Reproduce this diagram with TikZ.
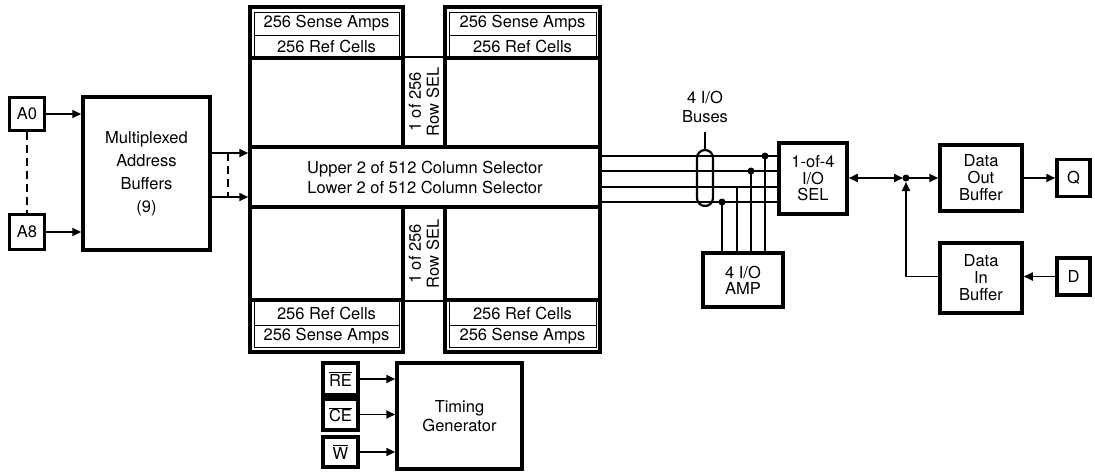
\documentclass[tikz,border=0pt]{standalone}
\usepackage{fontspec}
\setmainfont{TeX Gyre Heros}
\usetikzlibrary{arrows.meta, positioning, calc}

\newcommand{\ovbar}[1]{$\overline{\mbox{#1}}$}

\tikzset{
  blk/.style={draw, line width=3.5pt, align=center, inner sep=0pt},
  pin/.style={blk, minimum width=35pt, minimum height=33pt},
  cellrow/.style={draw, line width=1pt, inner sep=0pt},
  wire/.style={line width=1.7pt},
  sig/.style={wire, -{Triangle[length=9pt,width=8pt]}},
  dot/.style={circle, fill, inner sep=0pt, minimum size=7pt},
}

\begin{document}
\begin{tikzpicture}[x=1pt, y=-1pt, font=\fontsize{16.5}{18}\selectfont]

\useasboundingbox (0,0) rectangle (1095,472);

% Address inputs and buffers
\node[pin] (a0) at (27,114) {A0};
\node[pin, minimum height=35pt] (a8) at (27,232) {A8};
\node[blk, minimum width=127pt, minimum height=153pt, font=\fontsize{16.5}{23}\selectfont]
  (mux) at (146.5,173.5) {Multiplexed\\Address\\Buffers\\(9)};
\draw[wire, dash pattern=on 8pt off 5pt] (a0) -- (a8);
\draw[sig] (a0) -- (a0 -| mux.west);
\draw[sig] (a8) -- (a8 -| mux.west);

% Memory array blocks
\draw[line width=3.5pt] (250,7) rectangle (403,352);
\draw[line width=3.5pt] (445,7) rectangle (600,352);

% Top rows
\node[cellrow, minimum width=145pt, minimum height=23pt] (saTL) at (326.5,23.5) {256 Sense Amps};
\node[cellrow, minimum width=145pt, minimum height=22pt] (rcTL) at (326.5,46) {256 Ref Cells};
\node[cellrow, minimum width=147pt, minimum height=23pt] (saTR) at (522.5,23.5) {256 Sense Amps};
\node[cellrow, minimum width=147pt, minimum height=22pt] (rcTR) at (522.5,46) {256 Ref Cells};
\draw[line width=3.5pt] (250,58) -- (403,58);
\draw[line width=3.5pt] (445,58) -- (600,58);

% Bottom rows
\draw[line width=3.5pt] (250,300) -- (403,300);
\draw[line width=3.5pt] (445,300) -- (600,300);
\node[cellrow, minimum width=145pt, minimum height=24pt] (rcBL) at (326.5,313) {256 Ref Cells};
\node[cellrow, minimum width=145pt, minimum height=22pt] (saBL) at (326.5,336) {256 Sense Amps};
\node[cellrow, minimum width=147pt, minimum height=24pt] (rcBR) at (522.5,313) {256 Ref Cells};
\node[cellrow, minimum width=147pt, minimum height=22pt] (saBR) at (522.5,336) {256 Sense Amps};

% Row selectors
\draw[line width=1.2pt] (403,57) -- (445,57);
\draw[line width=1.2pt] (403,301) -- (445,301);
\node[rotate=90, align=center, font=\fontsize{16.5}{18}\selectfont] (rsT) at (424,102) {1 of 256\\Row SEL};
\node[rotate=90, align=center, font=\fontsize{16.5}{18}\selectfont] (rsB) at (424,254) {1 of 256\\Row SEL};

% Column selector
\node[blk, fill=white, minimum width=350pt, minimum height=60pt, font=\fontsize{16.5}{20}\selectfont]
  (colsel) at (425,177) {Upper 2 of 512 Column Selector\\Lower 2 of 512 Column Selector};
\draw[sig] (mux.east |- 0,153) -- (colsel.west |- 0,153);
\draw[sig] (mux.east |- 0,197) -- (colsel.west |- 0,197);
\draw[wire, dash pattern=on 8pt off 5pt] (228,153) -- (228,197);

% I/O select and amp
\node[blk, minimum width=68pt, minimum height=71pt, font=\fontsize{16.5}{16.5}\selectfont]
  (sel) at (813,178.5) {1-of-4\\I/O\\SEL};
\node[blk, minimum width=80pt, minimum height=54pt, font=\fontsize{16.5}{16}\selectfont]
  (amp) at (743,280) {4 I/O\\AMP};

% I/O buses
\foreach \y in {156,171,187,202}
  \draw[wire] (colsel.east |- 0,\y) -- (sel.west |- 0,\y);
\node[draw, line width=2.2pt, rounded corners=8pt, minimum width=16pt, minimum height=56pt] (bus) at (705,178) {};
\node[align=center, font=\fontsize{16.5}{19}\selectfont] (buslbl) at (705,107) {4 I/O\\Buses};
\coordinate (stem) at (705,132);
\draw[line width=2.2pt] (bus.north) -- (stem);
\foreach \x/\y in {722/202,737/187,751/171,765/156}
  \draw[wire] (\x,\y) -- (amp.north -| \x,0);
\foreach \x/\y [count=\i] in {722/202,751/171,765/156}
  \node[dot] (tap\i) at (\x,\y) {};

% Data path
\coordinate (jn) at (906,178);
\node[dot] (jdot) at (jn) {};
\node[blk, minimum width=82pt, minimum height=66pt, font=\fontsize{16.5}{17}\selectfont]
  (dout) at (981,178) {Data\\Out\\Buffer};
\node[blk, minimum width=82pt, minimum height=70pt, font=\fontsize{16.5}{17}\selectfont]
  (din) at (981,278) {Data\\In\\Buffer};
\node[pin, minimum width=33pt, minimum height=37pt] (q) at (1073.5,178) {Q};
\node[pin, minimum width=33pt, minimum height=37pt] (d) at (1073.5,276.5) {D};
\draw[wire, {Triangle[length=9pt,width=8pt]}-{Triangle[length=9pt,width=8pt]}, shorten >=3pt]
  (sel.east |- jn) -- (jn);
\draw[sig] (jn) -- (dout.west);
\draw[sig] (dout) -- (q);
\draw[sig] (d) -- (d -| din.east);
\draw[sig, shorten >=4pt] (din.west |- d) -| (jn);

% Timing
\node[pin, minimum height=32pt] (re) at (340.5,379) {\ovbar{RE}};
\node[pin, minimum height=31pt] (ce) at (340.5,414.5) {\ovbar{CE}};
\node[pin, minimum height=30pt] (w) at (340.5,452) {\ovbar{W}};
\node[blk, minimum width=125pt, minimum height=106pt, font=\fontsize{16.5}{19}\selectfont]
  (tg) at (459.5,416) {Timing\\Generator};
\foreach \s in {re,ce,w}
  \draw[sig] (\s) -- (\s -| tg.west);

\end{tikzpicture}
\end{document}
